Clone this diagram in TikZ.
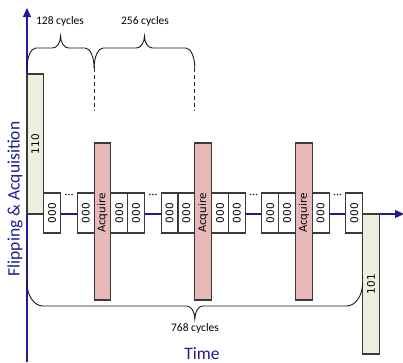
\documentclass[tikz,border=0pt]{standalone}
\usepackage{fontspec}
\setmainfont{Carlito}
\newfontfamily\boxfont{DejaVu Sans}
\usetikzlibrary{arrows.meta}
\definecolor{axisblue}{HTML}{1C1C96}
\definecolor{boxgreen}{HTML}{EBF1DE}
\definecolor{acqred}{HTML}{E6B9B8}
\definecolor{edgegray}{HTML}{3A3A3A}
% curly brace: x0, x1, yEnd, yHoriz, yTip, rEnd, rTip
\newcommand{\cbrace}[7]{%
  \pgfmathsetmacro{\xa}{#1}%
  \pgfmathsetmacro{\xb}{#2}%
  \pgfmathsetmacro{\xm}{(\xa+\xb)/2}%
  \pgfmathsetmacro{\ya}{#3+0.55*(#4-#3)}%
  \pgfmathsetmacro{\yb}{#5+0.55*(#4-#5)}%
  \pgfmathsetmacro{\xaa}{\xa+0.45*#6}%
  \pgfmathsetmacro{\xab}{\xa+#6}%
  \pgfmathsetmacro{\xba}{\xb-0.45*#6}%
  \pgfmathsetmacro{\xbb}{\xb-#6}%
  \pgfmathsetmacro{\xma}{\xm-0.45*#7}%
  \pgfmathsetmacro{\xmb}{\xm-#7}%
  \pgfmathsetmacro{\xmc}{\xm+0.45*#7}%
  \pgfmathsetmacro{\xmd}{\xm+#7}%
  \draw[bracestyle] (\xa,#3) .. controls (\xa,\ya) and (\xaa,#4) .. (\xab,#4)
    -- (\xmb,#4) .. controls (\xma,#4) and (\xm,\yb) .. (\xm,#5)
    .. controls (\xm,\yb) and (\xmc,#4) .. (\xmd,#4)
    -- (\xbb,#4) .. controls (\xba,#4) and (\xb,\ya) .. (\xb,#3);}
\begin{document}
\begin{tikzpicture}[x=1pt,y=-1pt,
  axis/.style={draw=axisblue,line width=1.1pt,-{Triangle[length=9pt,width=8pt]}},
  zerobox/.style={draw=edgegray,line width=1.1pt,fill=white,rotate=90,minimum width=40pt,minimum height=16.8pt,inner sep=0pt,font=\boxfont\fontsize{10.5}{12}\selectfont},
  greenbox/.style={draw=edgegray,line width=1.1pt,fill=boxgreen,rotate=90,minimum width=140pt,minimum height=16.8pt,inner sep=0pt,font=\boxfont\fontsize{10.5}{12}\selectfont},
  acqbox/.style={draw=edgegray,line width=1.1pt,fill=acqred,minimum width=16.8pt,minimum height=157pt,inner sep=0pt},
  acqlbl/.style={rotate=90,inner sep=0pt,font=\boxfont\fontsize{10.5}{12}\selectfont},
  bracestyle/.style={draw=black!90,line width=0.9pt},
  guide/.style={draw=black!85,line width=0.9pt,dash pattern=on 4pt off 3pt},
  cyc/.style={font=\fontsize{11.5}{13}\selectfont,inner sep=0pt},
  axlbl/.style={text=axisblue,font=\fontsize{17.5}{20}\selectfont,inner sep=0pt}
]
\useasboundingbox (0,0) rectangle (403,362);
\def\u{16.78}
% axes
\coordinate (o) at (27,214);
\coordinate (ytop) at (27,8);
\coordinate (ybot) at (27,362);
\coordinate (xend) at (404,214);
\draw[axis] (ybot) -- (ytop);
\draw[axis] (o) -- (xend);
% axis labels
\node[axlbl,rotate=90] (ylab) at (15,199) {Flipping \& Acquisition};
\node[axlbl,anchor=base] (xlab) at (202,359) {Time};
% green boxes
\node[greenbox] (b110) at ({27+0.5*\u},144) {110};
\node[greenbox] (b101) at ({27+20.5*\u},284) {101};
% acquire boxes
\foreach \k/\n in {4/a1,10/a2,16/a3}{
  \node[acqbox] (\n) at ({27+(\k+0.5)*\u},221.5) {};
  \node[acqlbl] at ({27+(\k+0.5)*\u},213) {Acquire};
}
% 000 boxes
\foreach \k/\n in {1/z1,3/z2,5/z3,6/z4,8/z5,9/z6,11/z7,12/z8,14/z9,15/z10,17/z11,19/z12}
  \node[zerobox] (\n) at ({27+(\k+0.5)*\u},213) {000};
% dots
\foreach \k in {2,7,13,18}{
  \foreach \d in {-3,0,3}
    \fill[black!85] ({27+(\k+0.5)*\u+\d},194.5) circle (0.9pt);
}
% guide lines
\coordinate (g1t) at ({27+4*\u},68);
\coordinate (g1b) at ({27+4*\u},111);
\coordinate (g2t) at ({27+10*\u},68);
\coordinate (g2b) at ({27+10*\u},111);
\draw[guide] (g1t) -- (g1b);
\draw[guide] (g2t) -- (g2b);
\coordinate (g3t) at (27,240);
\coordinate (g3b) at (27,283);
\coordinate (g4t) at ({27+20*\u},240);
\coordinate (g4b) at ({27+20*\u},283);
\draw[guide] (g3t) -- (g3b);
\draw[guide] (g4t) -- (g4b);
% braces
\cbrace{27}{27+4*\u}{68}{48}{36}{9}{8}
\cbrace{27+4*\u}{27+10*\u}{68}{48}{36}{9}{8}
\cbrace{27}{27+20*\u}{283}{306}{319}{16}{8}
% brace labels
\node[cyc] (c128) at (60,21) {128 cycles};
\node[cyc] (c256) at (145,21) {256 cycles};
\node[cyc] (c768) at (195,328) {768 cycles};
\end{tikzpicture}
\end{document}
